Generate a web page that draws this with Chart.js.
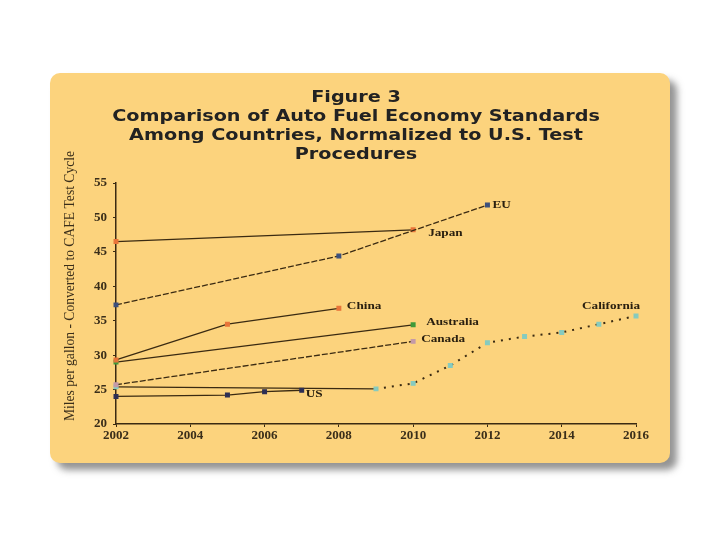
<!DOCTYPE html>
<html>
<head>
<meta charset="utf-8">
<script src="https://cdn.jsdelivr.net/npm/chart.js@4.4.1/dist/chart.umd.min.js"></script>
<style>
  html, body { margin: 0; padding: 0; background: #fff; }
  #wrap { position: relative; width: 720px; height: 540px; overflow: hidden; }
  #panel {
    position: absolute; left: 50px; top: 73px; width: 620px; height: 390px;
    background: #fcd37d; border-radius: 10px;
    box-shadow: 7px 7px 7px rgba(60, 60, 60, 0.55);
  }
  #myChart { position: absolute; left: 0; top: 0; }
</style>
</head>
<body>
<div id="wrap">
  <div id="panel"></div>
  <canvas id="myChart" width="720" height="540"></canvas>
</div>
<script>
// datos
const nombres = ["EU", "Japan", "China", "Australia", "Canada", "US", "California"];

const euAnios = [2002, 2008, 2012];
const euMpg = [37.3, 44.4, 51.8];
const japanAnios = [2002, 2010];
const japanMpg = [46.5, 48.2];
const chinaAnios = [2002, 2005, 2008];
const chinaMpg = [29.3, 34.5, 36.8];
const australiaAnios = [2002, 2010];
const australiaMpg = [29.0, 34.4];
const canadaAnios = [2002, 2010];
const canadaMpg = [25.7, 32.0];
const usAnios = [2002, 2005, 2006, 2007];
const usMpg = [24.0, 24.2, 24.7, 24.9];
const californiaAnios = [2002, 2009, 2010, 2011, 2012, 2013, 2014, 2015, 2016];
const californiaMpg = [25.4, 25.1, 25.9, 28.5, 31.8, 32.7, 33.3, 34.5, 35.7];

const xTicks = [2002, 2004, 2006, 2008, 2010, 2012, 2014, 2016];
const yTicks = [20, 25, 30, 35, 40, 45, 50, 55];

const titulo = [
  "Figure 3",
  "Comparison of Auto Fuel Economy Standards",
  "Among Countries, Normalized to U.S. Test",
  "Procedures",
];
const tituloEjeY = "Miles per gallon - Converted to CAFE Test Cycle";

// estilos por serie
const colorPunto = {
  EU: "#3b4f7d",
  Japan: "#e8743a",
  China: "#e8743a",
  Australia: "#3f9a3a",
  Canada: "#c49aa8",
  US: "#2d2f55",
  California: "#86cbbf",
};
const posEtiqueta = {
  EU: { dx: 5, dy: 0, align: "left" },
  Japan: { dx: 15, dy: 3, align: "left" },
  China: { dx: 8, dy: -2, align: "left" },
  Australia: { dx: 13, dy: -3, align: "left" },
  Canada: { dx: 8, dy: -2, align: "left" },
  US: { dx: 4, dy: 4, align: "left" },
  California: { dx: 4, dy: -10, align: "right" },
};

const colorLinea = "#3a2a12";
const serif = "'Liberation Serif', 'Times New Roman', serif";

const juntar = (anios, valores) => anios.map((a, i) => ({ x: a, y: valores[i] }));

const series = [
  [euAnios, euMpg, [6, 2]],
  [japanAnios, japanMpg, []],
  [chinaAnios, chinaMpg, []],
  [australiaAnios, australiaMpg, []],
  [canadaAnios, canadaMpg, [6, 2]],
  [usAnios, usMpg, []],
  [californiaAnios, californiaMpg, []],
];

const datasets = series.map(([anios, valores, dash], i) => {
  const nombre = nombres[i];
  const ds = {
    label: nombre,
    data: juntar(anios, valores),
    borderColor: colorLinea,
    borderWidth: 1.3,
    borderDash: dash,
    pointStyle: "rect",
    pointRadius: 2.6,
    pointBackgroundColor: colorPunto[nombre],
    pointBorderColor: colorPunto[nombre],
    tension: 0,
    clip: false,
  };
  if (nombre === "California") {
    ds.segment = {
      borderDash: (ctx) => (ctx.p0.parsed.x >= 2009 ? [2, 6] : undefined),
      borderWidth: (ctx) => (ctx.p0.parsed.x >= 2009 ? 2 : 1.3),
    };
  }
  return ds;
});

// texto estirado en horizontal, como la figura original
function textoAncho(ctx, texto, x, y, escala, align) {
  ctx.save();
  ctx.translate(x, y);
  ctx.scale(escala, 1);
  ctx.textAlign = align;
  ctx.fillText(texto, 0, 0);
  ctx.restore();
}

const textosPlugin = {
  id: "textos",
  afterDatasetsDraw(chart) {
    const ctx = chart.ctx;
    // titulo
    ctx.save();
    ctx.font = "bold 16px 'DejaVu Sans', Verdana, sans-serif";
    ctx.fillStyle = "#222";
    ctx.textBaseline = "middle";
    titulo.forEach((linea, i) => {
      textoAncho(ctx, linea, 356, 98 + i * 19, 1.2, "center");
    });
    ctx.restore();

    // etiquetas de serie
    ctx.save();
    ctx.font = "bold 11px " + serif;
    ctx.fillStyle = "#2a2010";
    ctx.textBaseline = "middle";
    chart.data.datasets.forEach((ds, i) => {
      const meta = chart.getDatasetMeta(i);
      const ultimo = meta.data[meta.data.length - 1];
      const p = posEtiqueta[ds.label];
      textoAncho(ctx, ds.label, ultimo.x + p.dx, ultimo.y + p.dy, 1.2, p.align);
    });
    ctx.restore();

    // titulo del eje y
    ctx.save();
    ctx.translate(70, 286);
    ctx.rotate(-Math.PI / 2);
    ctx.font = "13.6px " + serif;
    ctx.fillStyle = "#3a2e1a";
    ctx.textAlign = "center";
    ctx.textBaseline = "middle";
    ctx.fillText(tituloEjeY, 0, 0);
    ctx.restore();
  },
};

const fuenteTick = { family: serif, size: 13, weight: "bold" };

const config = {
  type: "line",
  data: { datasets },
  options: {
    responsive: false,
    animation: false,
    layout: { padding: { left: 72, right: 84, top: 183, bottom: 96 } },
    plugins: {
      legend: { display: false },
      tooltip: { enabled: false },
      title: { display: false },
    },
    scales: {
      x: {
        type: "linear",
        min: 2002,
        max: 2016,
        afterBuildTicks: (scale) => { scale.ticks = xTicks.map((v) => ({ value: v })); },
        afterFit: (scale) => { scale.height = 20; },
        grid: { display: true, drawOnChartArea: false, tickLength: 3, color: colorLinea },
        border: { color: colorLinea, width: 1.5 },
        ticks: { color: "#3a2e1a", font: fuenteTick, padding: 1, maxRotation: 0, callback: (v) => String(v) },
      },
      y: {
        min: 20,
        max: 55,
        afterBuildTicks: (scale) => { scale.ticks = yTicks.map((v) => ({ value: v })); },
        afterFit: (scale) => { scale.width = 44; },
        grid: { display: true, drawOnChartArea: false, tickLength: 3, color: colorLinea },
        border: { color: colorLinea, width: 1.5 },
        ticks: { color: "#3a2e1a", font: fuenteTick, padding: 6 },
      },
    },
  },
  plugins: [textosPlugin],
};

new Chart(document.getElementById("myChart"), config);
</script>
</body>
</html>
